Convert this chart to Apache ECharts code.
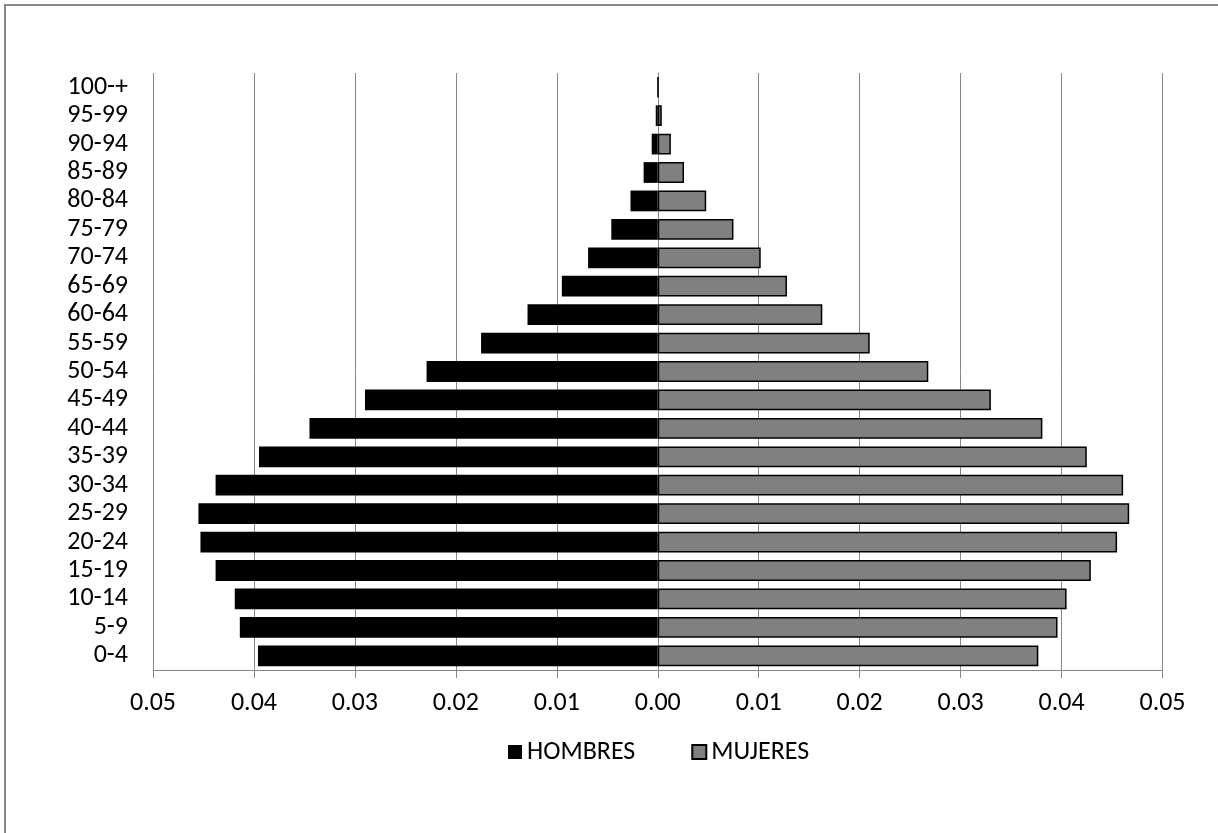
<!DOCTYPE html>
<html>
<head>
<meta charset="utf-8">
<script src="https://cdn.jsdelivr.net/npm/echarts@6/dist/echarts.min.js"></script>
<style>
html,body{margin:0;padding:0;background:#fff;}
#chart{width:1218px;height:833px;}
</style>
</head>
<body>
<div id="chart"></div>
<script>
const categories = ['0-4','5-9','10-14','15-19','20-24','25-29','30-34','35-39','40-44','45-49','50-54','55-59','60-64','65-69','70-74','75-79','80-84','85-89','90-94','95-99','100-+'];
const hombres = [0.0396,0.0414,0.0419,0.0438,0.0453,0.0455,0.0438,0.0395,0.0345,0.0290,0.0229,0.0175,0.0129,0.0095,0.0069,0.0046,0.0027,0.0014,0.0006,0.0002,0.00003];
const mujeres = [0.0377,0.0396,0.0405,0.0429,0.0455,0.0467,0.0461,0.0425,0.0381,0.0330,0.0268,0.0210,0.0163,0.0128,0.0102,0.0075,0.0048,0.0026,0.0013,0.0004,0.00005];
const xTicks = {min: -0.05, max: 0.05, interval: 0.01};
const seriesNames = ['HOMBRES','MUJERES'];

const FONT = 'Carlito, Calibri, Lato, sans-serif';
const chart = echarts.init(document.getElementById('chart'));
chart.setOption({
  backgroundColor: '#ffffff',
  animation: false,
  graphic: [{
    type: 'rect',
    shape: {x: 5, y: 5, width: 1400, height: 1000},
    style: {fill: 'none', stroke: '#878787', lineWidth: 2},
    silent: true
  }],
  grid: {left: 153, right: 55.5, top: 73, bottom: 163, containLabel: false},
  legend: {
    data: seriesNames,
    top: 734,
    left: 503,
    itemWidth: 14,
    itemHeight: 14,
    itemGap: 56,
    icon: 'rect',
    textStyle: {fontFamily: FONT, fontSize: 26, color: '#000'}
  },
  xAxis: {
    type: 'value',
    min: xTicks.min,
    max: xTicks.max,
    interval: xTicks.interval,
    axisLine: {show: true, lineStyle: {color: '#878787', width: 1}},
    axisTick: {show: true, length: 8, lineStyle: {color: '#878787', width: 1}},
    splitLine: {show: true, lineStyle: {color: '#878787', width: 1}},
    axisLabel: {
      margin: 20,
      fontFamily: FONT, fontSize: 26, color: '#000',
      formatter: v => Math.abs(v).toFixed(2)
    }
  },
  yAxis: {
    type: 'category',
    data: categories,
    axisLine: {show: true, lineStyle: {color: '#878787', width: 1}},
    axisTick: {show: false},
    splitLine: {show: false},
    axisLabel: {interval: 0, margin: 25, fontFamily: FONT, fontSize: 26, color: '#000'}
  },
  series: [{
    name: seriesNames[0],
    type: 'bar',
    stack: 'pop',
    barCategoryGap: '27%',
    data: hombres.map(v => -v),
    itemStyle: {color: '#000000'}
  }, {
    name: seriesNames[1],
    type: 'bar',
    stack: 'pop',
    barCategoryGap: '27%',
    data: mujeres,
    itemStyle: {color: '#808080', borderColor: '#000000', borderWidth: 1.5}
  }]
});
</script>
</body>
</html>
